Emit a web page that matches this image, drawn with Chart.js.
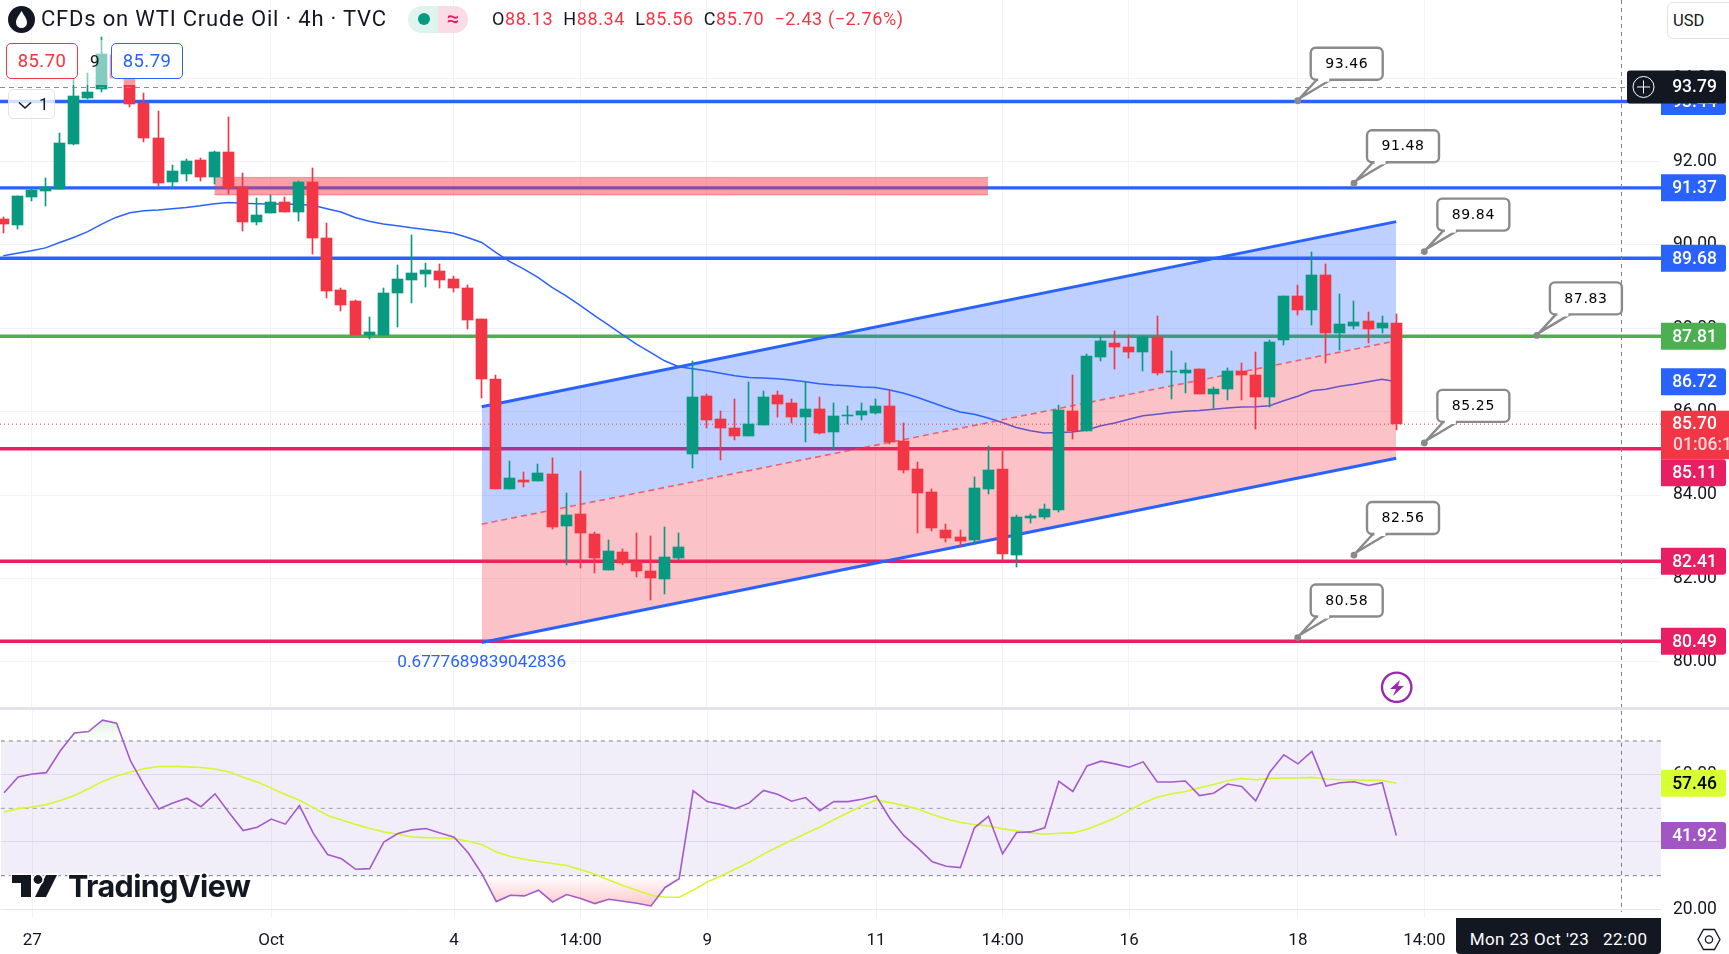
<!DOCTYPE html>
<html>
<head>
<meta charset="utf-8">
<script src="https://cdn.jsdelivr.net/npm/chart.js@4"></script>
<style>
html,body{margin:0;padding:0;background:#fff;width:1729px;height:954px;overflow:hidden;font-family:Roboto,sans-serif;color:#131722}
canvas{position:absolute;left:0;display:block}
#cA{top:0}
#cB{top:710px}
.abs{position:absolute;white-space:nowrap}
.rbox{position:absolute;box-sizing:border-box;background:#fff;border-radius:5px;text-align:center;font-size:18.5px;letter-spacing:.4px}
</style>
</head>
<body>
<canvas id="cA" width="1729" height="708"></canvas>
<canvas id="cB" width="1729" height="244"></canvas>
<div class="abs" style="left:0;top:707px;width:1729px;height:3px;background:#e0e3eb"></div>

<!-- legend veil -->
<div class="abs" style="left:0;top:40px;width:190px;height:45px;background:rgba(255,255,255,.5)"></div>
<svg class="abs" style="left:7px;top:5px" width="29" height="29" viewBox="0 0 29 29"><circle cx="14.5" cy="14.5" r="13.5" fill="#131722"/><path d="M14.5 6 C12 10.5 9 13.5 9 17.5 a5.5 5.5 0 0 0 11 0 C20 13.5 17 10.5 14.5 6Z" fill="#fff"/></svg>
<div class="abs" style="left:41px;top:5px;font-size:22px;line-height:28px;letter-spacing:.8px">CFDs on WTI Crude Oil · 4h · TVC</div>
<div class="abs" style="left:408px;top:6px;width:30px;height:27px;background:#dff3ef;border-radius:14px 0 0 14px"></div>
<div class="abs" style="left:438px;top:6px;width:30px;height:27px;background:#fbdbe6;border-radius:0 14px 14px 0;color:#e91e63;font-size:22px;line-height:26px;text-align:center;font-weight:500">≈</div>
<div class="abs" style="left:418px;top:13px;width:12px;height:12px;border-radius:6px;background:#089981"></div>
<div class="abs" style="left:492px;top:5px;font-size:18px;line-height:28px;letter-spacing:.6px;color:#f23645"><span style="color:#131722">O</span>88.13 <span style="color:#131722">&nbsp;H</span>88.34 <span style="color:#131722">&nbsp;L</span>85.56 <span style="color:#131722">&nbsp;C</span>85.70 &nbsp;−2.43 (−2.76%)</div>
<div class="rbox" style="left:6px;top:43px;width:72px;height:36px;line-height:34px;border:1px solid #f23645;color:#f23645">85.70</div>
<div class="abs" style="left:90px;top:47px;font-size:17px;line-height:28px">9</div>
<div class="rbox" style="left:111px;top:43px;width:72px;height:36px;line-height:34px;border:1px solid #2962ff;color:#2962ff">85.79</div>
<div class="abs" style="left:8px;top:89px;width:47px;height:30px;box-sizing:border-box;border:1px solid #e0e3eb;border-radius:5px;background:rgba(255,255,255,.8);font-size:17px;line-height:28px;padding-left:30px">1
<svg style="position:absolute;left:9px;top:11px" width="14" height="9" viewBox="0 0 14 9"><path d="M1 1.5 L7 7 L13 1.5" fill="none" stroke="#131722" stroke-width="1.6"/></svg></div>
<div class="abs" style="left:1667px;top:2px;width:70px;height:37px;box-sizing:border-box;border:1px solid #e0e3eb;border-radius:6px;background:#fff;font-size:16.5px;line-height:35px;padding-left:5px">USD</div>

<!-- lightning mark -->
<svg class="abs" style="left:1380px;top:671px" width="34" height="34" viewBox="0 0 34 34"><circle cx="16.7" cy="16.3" r="14.7" fill="none" stroke="#9c27b0" stroke-width="2.4"/><path d="M20 9 L10 18 H16 L13 25 L24 15 H18 Z" fill="#9c27b0"/></svg>

<!-- TradingView mark -->
<svg class="abs" style="left:10px;top:872px" width="52" height="28" viewBox="0 0 52 28"><path d="M2 3 H21 V25 H11 V11 H2 Z M36 3 H47 L36 25 H25 Z" fill="#131722" stroke="#fff" stroke-width="3" paint-order="stroke"/><circle cx="28" cy="7.5" r="4.4" fill="#131722" stroke="#fff" stroke-width="3" paint-order="stroke"/></svg>
<div class="abs" style="left:68px;top:867px;font-family:Inter,sans-serif;font-weight:700;font-size:30.5px;line-height:38px;letter-spacing:-.6px;color:#131722;-webkit-text-stroke:3px #fff;paint-order:stroke fill">TradingView</div>

<!-- date box and settings -->
<div class="abs" style="left:1456px;top:918px;width:205px;height:36px;background:#131722;border-radius:0 0 4px 4px;color:#fff;font-size:17px;line-height:43px;text-align:center;letter-spacing:.4px;white-space:pre">Mon 23 Oct '23   22:00</div>
<svg class="abs" style="left:1696px;top:927px" width="26" height="25" viewBox="0 0 26 25"><path d="M7.5 2.5 H18.5 L24 12.5 L18.5 22.5 H7.5 L2 12.5 Z" fill="none" stroke="#131722" stroke-width="1.3"/><circle cx="13" cy="12.5" r="3.6" fill="none" stroke="#131722" stroke-width="1.3"/></svg>

<script>
// ---------- candles (4h bars, oldest first) ----------
const opens = [90.62,90.48,91.16,91.30,91.34,92.42,93.53,93.74,94.56,94.00,93.41,92.57,91.51,91.70,92.04,91.63,92.23,91.39,90.55,90.77,91.03,90.79,91.51,90.17,88.92,88.66,87.84,87.84,88.85,89.16,89.30,89.38,89.18,88.97,88.22,86.78,84.14,84.36,84.34,84.50,83.26,83.54,83.06,82.20,82.63,82.39,82.18,81.98,82.49,84.98,86.38,85.82,85.61,85.42,85.68,86.40,86.21,85.87,86.06,85.51,85.90,85.92,85.97,86.14,85.30,84.62,84.07,83.16,83.00,82.92,84.14,84.62,82.56,83.45,83.47,83.64,86.02,85.54,87.31,87.65,87.55,87.43,87.79,86.95,86.93,87.02,86.42,86.54,86.98,86.88,86.35,87.72,88.78,88.44,89.28,87.89,88.06,88.18,88.01,88.13];
const highs = [90.68,91.18,91.36,91.61,92.69,94.00,94.12,95.00,94.68,94.10,93.64,93.22,91.92,92.06,92.09,92.26,93.07,91.73,91.13,91.20,91.15,91.54,91.85,90.53,88.97,88.68,88.27,88.97,89.52,90.24,89.57,89.54,89.26,89.04,88.22,86.88,84.82,84.55,84.74,84.89,84.05,84.58,83.11,82.92,82.70,83.09,83.02,83.23,83.09,87.22,86.42,86.02,86.30,86.71,86.50,86.50,86.30,86.71,86.35,86.21,86.14,86.21,86.30,86.52,85.73,84.79,84.14,83.30,83.16,84.43,85.18,85.06,83.52,83.54,83.78,86.16,86.88,87.38,87.79,87.94,87.84,87.82,88.30,87.46,87.17,87.02,86.59,87.05,87.17,87.43,87.72,88.78,89.04,89.83,89.54,88.82,88.66,88.39,88.30,88.34];
const lows = [90.28,90.38,91.06,90.94,91.34,92.40,93.50,93.66,94.00,93.32,92.47,91.42,91.36,91.54,91.54,91.46,91.22,90.34,90.48,90.77,90.79,90.58,89.78,88.73,88.42,87.84,87.74,87.84,88.03,88.61,88.99,88.97,88.87,87.98,86.33,84.14,84.14,84.19,84.34,83.18,82.32,82.25,82.13,82.20,82.32,82.03,81.48,81.62,82.44,84.65,85.61,84.84,85.32,85.42,85.68,85.87,85.73,85.27,85.46,85.10,85.70,85.80,85.94,85.22,84.53,83.09,83.14,82.87,82.75,82.82,84.02,82.44,82.27,83.33,83.42,83.59,85.34,85.54,87.22,87.02,87.29,86.98,86.88,86.30,86.45,86.42,86.09,86.28,86.28,85.58,86.11,87.60,88.32,88.08,87.17,87.48,87.98,87.65,87.89,85.56];
const closes = [90.50,91.18,91.32,91.38,92.45,93.58,93.67,94.58,94.00,93.38,92.57,91.49,91.78,92.02,91.63,92.23,91.37,90.55,90.72,91.03,90.79,91.51,90.17,88.90,88.56,87.84,87.91,88.85,89.18,89.33,89.40,89.16,88.97,88.20,86.78,84.14,84.41,84.31,84.53,83.23,83.52,83.09,82.49,82.66,82.37,82.18,82.01,82.51,82.75,86.35,85.80,85.61,85.42,85.70,86.35,86.18,85.87,86.06,85.49,85.90,85.92,86.02,86.14,85.27,84.60,84.05,83.21,82.97,82.90,84.17,84.60,82.58,83.47,83.50,83.66,86.04,85.54,87.34,87.70,87.55,87.43,87.79,86.93,86.98,87.00,86.42,86.54,86.98,86.88,86.35,87.67,88.78,88.44,89.28,87.89,88.10,88.15,87.98,88.13,85.70];

// ---------- moving average on the price pane ----------
const priceMA = [89.74,89.80,89.86,89.93,90.06,90.18,90.32,90.50,90.66,90.77,90.82,90.84,90.87,90.90,90.94,90.99,91.02,91.00,90.99,90.98,90.98,90.97,90.95,90.87,90.79,90.66,90.57,90.50,90.46,90.41,90.37,90.33,90.28,90.18,90.06,89.82,89.60,89.42,89.22,88.98,88.78,88.55,88.31,88.08,87.85,87.62,87.42,87.22,87.08,87.03,86.98,86.92,86.86,86.82,86.81,86.79,86.76,86.72,86.67,86.64,86.62,86.59,86.58,86.52,86.44,86.34,86.22,86.10,85.99,85.94,85.85,85.74,85.62,85.54,85.49,85.50,85.51,85.56,85.66,85.73,85.82,85.90,85.94,85.98,86.01,86.03,86.06,86.09,86.11,86.12,86.14,86.26,86.37,86.50,86.54,86.61,86.66,86.72,86.78,86.72];

// ---------- RSI pane ----------
const rsi = [54.6,59.3,60.2,60.6,67.1,72.4,72.8,76.2,75.3,64.0,56.5,49.8,51.6,53.0,50.5,54.3,48.7,43.4,44.4,46.8,45.3,50.8,42.5,36.3,35.0,31.9,32.1,40.0,42.5,43.6,44.0,42.7,41.4,36.8,30.4,22.3,24.2,24.0,25.7,22.2,24.4,23.2,21.7,23.0,22.4,21.8,21.0,26.5,29.1,55.2,52.0,51.1,49.9,51.6,55.3,54.2,52.1,53.2,49.3,52.0,52.0,52.7,53.7,46.9,41.8,38.2,34.1,32.8,32.4,44.2,47.6,36.5,42.8,43.0,44.2,58.0,55.0,62.6,64.0,63.2,62.2,63.8,57.8,57.8,58.1,53.8,54.5,57.2,56.5,52.2,60.7,65.9,63.2,66.9,56.6,57.6,57.9,56.8,57.6,41.92];
const rsiMA = [48.9,49.9,50.4,51.1,52.3,53.8,55.8,58.0,59.6,60.8,61.8,62.4,62.5,62.3,62.1,61.7,60.8,59.2,57.8,56.0,54.1,52.4,50.2,47.9,46.5,45.2,44.0,43.0,42.3,41.5,41.3,41.2,41.0,40.2,39.2,37.0,35.7,34.9,34.2,33.6,33.0,31.8,30.4,28.7,27.1,25.7,24.2,23.6,23.6,25.7,28.1,30.0,32.0,34.0,36.4,38.5,40.5,42.5,44.4,46.6,48.7,50.7,52.5,51.7,50.8,49.7,48.2,46.8,45.8,45.2,44.8,43.9,43.3,42.7,42.3,42.6,42.7,43.8,45.4,47.1,49.4,51.6,53.3,54.3,55.0,56.1,57.1,58.2,58.9,58.5,58.9,59.0,59.0,59.2,58.7,58.5,58.4,58.3,58.3,57.46];
const rsiBands = [70,50,30];
const rsiTicks = [60,40,20];

// ---------- axes ----------
const priceTicks = [94,92,90,88,86,84,82,80];
const timeTickIndex = [2,19,32,41,50,62,71,80,92,101];
const timeTickLabels = ['27','Oct','4','14:00','9','11','14:00','16','18','14:00'];

// ---------- drawings ----------
const levelPrices = [93.44,91.37,89.68,87.81,85.11,82.41,80.49];
const levelColors = ['#2962ff','#2962ff','#2962ff','#4caf50','#e91e63','#e91e63','#e91e63'];
const channelIdx = [34,99];
const channelUpper = [86.12,90.56];
const channelMiddle = [83.30,87.70];
const channelLower = [80.46,84.88];
const zoneIdx = [15,70];
const zonePrices = [91.62,91.20];
const calloutPrices = [93.46,91.48,89.84,87.83,85.25,82.56,80.58];
const calloutIdx = [92,96,101,109,101,96,92];
const fibLabel = '0.6777689839042836';
const lastPrice = 85.70;
const maLast = 86.72;
const crossPrice = 93.79;
const crossIdx = 115;
const countdown = '01:06:14';

const xMin = -0.2346, xMax = 117.82;
const UI = 'Roboto, sans-serif';
Chart.defaults.font.family = UI;
Chart.defaults.color = '#131722';
Chart.defaults.animation = false;

const idx = opens.map((_, i) => i);
const isUp = idx.map(i => closes[i] >= opens[i]);
const candleCol = isUp.map(u => u ? '#089981' : '#f23645');
const hl = (v, c, w, dash, order) => ({type:'line', data:[{x:xMin,y:v},{x:xMax,y:v}], borderColor:c, borderWidth:w, borderDash:dash||[], pointRadius:0, fill:false, order});
const seg = (xs, ys, extra) => Object.assign({type:'line', data:xs.map((x,k)=>({x,y:ys[k]})), pointRadius:0, tension:0}, extra);

function zeroPad(axis){ axis.paddingTop=0; axis.paddingBottom=0; axis.paddingLeft=0; axis.paddingRight=0; }

function xScale(showLabels){
  return {type:'linear', min:xMin, max:xMax, bounds:'data', offset:false,
    afterBuildTicks(a){ a.ticks = timeTickIndex.map(value=>({value})); },
    afterFit(a){ a.height = showLabels ? 36 : 0; zeroPad(a); },
    grid:{color:'#f0f3fa', offset:false, drawTicks:false, tickLength:0}, border:{display:false},
    ticks:{display:showLabels, autoSkip:false, maxRotation:0, padding:13, color:'#131722', font:{size:17},
      callback:(v,i)=>timeTickLabels[i]}};
}
function yScale(min,max,list,gridCol){
  return {type:'linear', position:'right', min, max, bounds:'data',
    afterBuildTicks(a){ a.ticks = list.map(value=>({value})); },
    afterFit(a){ a.width = 68; zeroPad(a); },
    grid:{color:gridCol, drawTicks:false, tickLength:0}, border:{display:false},
    ticks:{padding:12, crossAlign:'near', color:'#131722', font:{size:17.5}, callback:v=>Number(v).toFixed(2)}};
}

// TradingView paints candles on whole pixels
const snapCandles = {id:'snap', beforeDatasetDraw(chart,args){
  const meta=args.meta;
  if(meta.type!=='bar') return;
  meta.data.forEach(el=>{
    el.x=Math.floor(el.x)+0.5;
    el.y=Math.round(el.y);
    el.base=Math.round(el.base);
    if(Math.abs(el.base-el.y)<1) el.base=el.y+1;
    el.height=el.base-el.y;
  });
}};

function crossV(chart,bottom){
  const c=chart.ctx,x=chart.scales.x.getPixelForValue(crossIdx);
  c.save();c.strokeStyle='#7a7d88';c.lineWidth=1;c.setLineDash([4,4]);
  c.beginPath();c.moveTo(Math.round(x)+.5,chart.chartArea.top);c.lineTo(Math.round(x)+.5,bottom);c.stroke();c.restore();
}
function tag(c,x,y,w,h,bg,txt,col,radius){
  c.fillStyle=bg;c.beginPath();c.roundRect(x,y,w,h,radius===undefined?[0,3,3,0]:radius);c.fill();
  if(txt){c.fillStyle=col;c.fillText(txt,x+w/2+1,y+h/2+1);}
}

const priceOverlay = {id:'priceOverlay', afterDraw(chart){
  const c=chart.ctx,Y=chart.scales.y,X=chart.scales.x;
  const yc=Y.getPixelForValue(crossPrice);
  crossV(chart,chart.chartArea.bottom);
  c.save();
  c.strokeStyle='#8a8d96';c.lineWidth=1;c.setLineDash([5,4]);
  c.beginPath();c.moveTo(0,Math.round(yc)+.5);c.lineTo(1627,Math.round(yc)+.5);c.stroke();c.setLineDash([]);

  // fibonacci text
  c.font='17.2px '+UI;c.fillStyle='#2962ff';c.textAlign='center';c.textBaseline='middle';
  c.fillText(fibLabel,X.getPixelForValue(channelIdx[0]),663);

  // callouts
  calloutPrices.forEach((p,k)=>{
    const dx=X.getPixelForValue(calloutIdx[k]),dy=Y.getPixelForValue(p);
    const bx=dx+13,by=dy-53,bw=72,bh=32;
    c.strokeStyle='#8a8a8a';c.lineWidth=2.4;c.fillStyle='#fff';
    c.beginPath();c.moveTo(bx+6,by+bh);c.lineTo(dx+2,dy-2.5);c.lineTo(bx+20,by+bh);c.closePath();c.fill();c.stroke();
    c.beginPath();c.roundRect(bx,by,bw,bh,5);c.fill();c.stroke();
    c.fillStyle='#fff';c.fillRect(bx+7.5,by+bh-2,11,4);
    c.fillStyle='#8a8a8a';c.beginPath();c.arc(dx,dy,3.4,0,7);c.fill();
    c.fillStyle='#000';c.font='14px "DejaVu Sans", sans-serif';c.letterSpacing='0.6px';
    c.fillText(p.toFixed(2),bx+bw/2,by+bh/2+.5);c.letterSpacing='0px';
  });

  // price axis tags
  const lx=1661,lw=65,lh=27;
  c.font='500 17.5px '+UI;c.textAlign='center';c.textBaseline='middle';
  const lastTop=Y.getPixelForValue(lastPrice)-13.5,lastBottom=lastTop+48.5;
  levelPrices.forEach((p,k)=>{
    let t=Y.getPixelForValue(p)-13.5;
    if(p<lastPrice && t<lastBottom) t=lastBottom;
    tag(c,lx,t,lw,lh,levelColors[k],p.toFixed(2),'#fff');
  });
  tag(c,lx,Y.getPixelForValue(maLast)-13.5,lw,lh,'#2962ff',maLast.toFixed(2),'#fff');
  c.fillStyle='#f23645';c.fillRect(lx,lastTop,68,48.5);
  c.fillStyle='#fff';c.fillText(lastPrice.toFixed(2),lx+33.5,lastTop+14);
  c.textAlign='left';c.fillStyle='rgba(255,255,255,.8)';c.fillText(countdown,1673,lastTop+35);c.textAlign='center';

  // crosshair tag
  const ct=yc-16.5;
  c.fillStyle='#131722';c.beginPath();c.roundRect(1627,ct,33,33,[3,0,0,3]);c.fill();
  c.fillRect(1660,ct,1,33);
  tag(c,lx,ct,lw,33,'#131722',crossPrice.toFixed(2),'#fff');
  c.strokeStyle='#fff';c.lineWidth=1;
  c.beginPath();c.arc(1643.5,yc,10.5,0,7);c.moveTo(1637,yc);c.lineTo(1650,yc);c.moveTo(1643.5,yc-6.5);c.lineTo(1643.5,yc+6.5);c.stroke();
  c.restore();
}};

const rsiOverlay = {id:'rsiOverlay', afterDraw(chart){
  const c=chart.ctx,Y=chart.scales.y;
  crossV(chart,202);
  c.save();
  c.font='500 17.5px '+UI;c.textAlign='center';c.textBaseline='middle';
  tag(c,1661,Y.getPixelForValue(rsiMA[rsiMA.length-1])-13.5,65,27,'#d7ff33',rsiMA[rsiMA.length-1].toFixed(2),'#000');
  tag(c,1661,Y.getPixelForValue(rsi[rsi.length-1])-13.5,65,27,'#a156c4',rsi[rsi.length-1].toFixed(2),'#fff');
  c.restore();
}};

// ---------- price pane ----------
const priceDatasets = [];
levelPrices.forEach((p,k)=>priceDatasets.push(hl(p,levelColors[k],3.4,null,20)));
priceDatasets.push({type:'line', data:idx.map(i=>({x:i,y:priceMA[i]})), borderColor:'#2962ff', borderWidth:1.5, pointRadius:0, fill:false, order:19});
priceDatasets.push(seg(zoneIdx,[zonePrices[0],zonePrices[0]],{borderColor:'rgba(242,54,69,.45)',borderWidth:1,fill:'+1',backgroundColor:'rgba(242,54,69,.47)',order:18}));
priceDatasets.push(seg(zoneIdx,[zonePrices[1],zonePrices[1]],{borderColor:'rgba(242,54,69,.45)',borderWidth:1,fill:false,order:17}));
priceDatasets.push(seg(channelIdx,channelUpper,{borderColor:'#2962ff',borderWidth:3,fill:'+1',backgroundColor:'rgba(41,98,255,.3)',order:16}));
priceDatasets.push(seg(channelIdx,channelMiddle,{borderColor:'rgba(242,54,69,.7)',borderWidth:1.6,borderDash:[6,4],fill:'+1',backgroundColor:'rgba(242,54,69,.3)',order:15}));
priceDatasets.push(seg(channelIdx,channelLower,{borderColor:'#2962ff',borderWidth:3,fill:false,order:14}));
priceDatasets.push(hl(lastPrice,'#f23645',1,[1,3],13));
priceDatasets.push({type:'bar', data:idx.map(i=>({x:i,y:[lows[i],highs[i]]})), backgroundColor:candleCol, barThickness:1, grouped:false, order:2});
priceDatasets.push({type:'bar', data:idx.map(i=>({x:i,y:[opens[i],closes[i]]})), backgroundColor:candleCol, barThickness:11, grouped:false, order:1});

new Chart(document.getElementById('cA'),{
  type:'line',
  data:{datasets:priceDatasets},
  options:{responsive:false, maintainAspectRatio:false, animation:false, devicePixelRatio:1,
    layout:{padding:0},
    plugins:{legend:{display:false},tooltip:{enabled:false},filler:{drawTime:'beforeDatasetDraw'}},
    scales:{x:xScale(false), y:yScale(78.89,95.877,priceTicks,'#f0f3fa')}},
  plugins:[snapCandles,priceOverlay]
});

// ---------- RSI pane ----------
const rsiPts = idx.map(i=>({x:i,y:rsi[i]}));
const rsiDatasets = [
  hl(rsiBands[0],'#787b86',1,[4,4],20),
  hl(rsiBands[2],'#787b86',1,[4,4],19),
  hl(rsiBands[1],'rgba(120,123,134,.7)',1,[4,4],18),
  {type:'line',data:rsiPts,borderWidth:0,pointRadius:0,order:17,fill:{target:{value:rsiBands[0]},above:'rgba(76,175,80,.15)',below:'rgba(0,0,0,0)'}},
  {type:'line',data:rsiPts,borderWidth:0,pointRadius:0,order:16,fill:{target:{value:rsiBands[2]},above:'rgba(0,0,0,0)',below:'rgba(242,54,69,.2)'}},
  {type:'line',data:idx.map(i=>({x:i,y:rsiMA[i]})),borderColor:'#d4f82f',borderWidth:1.6,pointRadius:0,fill:false,order:3},
  {type:'line',data:rsiPts,borderColor:'#a45bc9',borderWidth:1.6,pointRadius:0,fill:false,order:2}
];
rsiDatasets[0].fill='+1';
rsiDatasets[0].backgroundColor='rgba(126,87,194,.1)';

const rsiChart = new Chart(document.getElementById('cB'),{
  type:'line',
  data:{datasets:rsiDatasets},
  options:{responsive:false, maintainAspectRatio:false, animation:false, devicePixelRatio:1,
    layout:{padding:0},
    plugins:{legend:{display:false},tooltip:{enabled:false},filler:{drawTime:'beforeDatasetDraw'}},
    scales:{x:xScale(true), y:yScale(17.43,78.96,rsiTicks,'#e7e6ef')}},
  plugins:[rsiOverlay]
});
const Yr=rsiChart.scales.y, gctx=rsiChart.ctx;
const gUp=gctx.createLinearGradient(0,Yr.getPixelForValue(76.5),0,Yr.getPixelForValue(70));
gUp.addColorStop(0,'rgba(76,175,80,.2)');gUp.addColorStop(1,'rgba(76,175,80,0)');
const gDn=gctx.createLinearGradient(0,Yr.getPixelForValue(30),0,Yr.getPixelForValue(21));
gDn.addColorStop(0,'rgba(242,54,69,0)');gDn.addColorStop(1,'rgba(242,54,69,.28)');
rsiDatasets[3].fill.above=gUp;
rsiDatasets[4].fill.below=gDn;
rsiChart.update('none');
</script>
</body>
</html>
